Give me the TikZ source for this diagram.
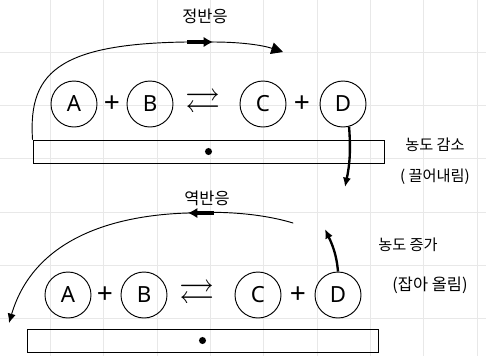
\documentclass[tikz,border=0pt]{standalone}
\usepackage{fontspec}
\usepackage{amssymb}
\setsansfont{Noto Sans}
\newfontfamily\kor{Noto Sans CJK KR}
\usetikzlibrary{arrows.meta,positioning,calc}
\tikzset{
    mol/.style={circle, draw, thick, minimum size=1.38cm, inner sep=0pt, font=\sffamily\fontsize{19}{19}\selectfont},
    plus/.style={font=\sffamily\fontsize{24}{24}\selectfont},
    eqsign/.style={font=\fontsize{30}{30}\selectfont},
    tube/.style={rectangle, draw, thick, minimum width=10.53cm, minimum height=0.69cm},
    spot/.style={circle, fill, inner sep=0pt, minimum size=6pt},
    klabel/.style={font=\kor\fontsize{13}{15}\selectfont},
    flow/.style={thick, line cap=round},
    push/.style={-{Latex[length=8pt,width=7pt]}, line width=2pt},
    midhead/.style={line width=3pt, -{Latex[length=8pt,width=9pt]}}
}

\begin{document}
\begin{tikzpicture}[x=0.03cm, y=-0.03cm]
\useasboundingbox (0,0) rectangle (486,356);

% faint grid of the paper
\foreach \gx in {50,103,157,210,263,317,370,423,477}
    \draw[gray!18] (\gx,0) -- (\gx,356);
\foreach \gy in {52,105,158,212,265,318}
    \draw[gray!18] (0,\gy) -- (486,\gy);

% Top: equilibrium, product pulled down
\node[mol] (A1) at (74,104) {A};
\node[plus] (p1) at (112,104) {+};
\node[mol] (B1) at (150,104) {B};
\node[eqsign] (eq1) at (203,104) {$\rightleftarrows$};
\node[mol] (C1) at (263,104) {C};
\node[plus] (p2) at (302,104) {+};
\node[mol] (D1) at (343,104) {D};
\node[tube] (tube1) at (208.5,151.5) {};
\node[spot] (dot1) at (tube1.center) {};

% forward reaction arc
\coordinate (fmid) at (213,42);
\coordinate (fend) at (283,52);
\draw[flow] (tube1.north west) .. controls (28,70) and (60,40) .. (fmid);
\draw[flow, -{Triangle[length=10pt,width=10pt]}] (fmid) .. controls (240,42) and (262,45) .. (fend);
\draw[midhead] ($(fmid)+(-26,0)$) -- (fmid);
\node[klabel, font=\kor\fontsize{14}{15}\selectfont] (fwd) at (205,16) {정반응};

% D pulled down
\coordinate (dend) at (345,187);
\draw[push] (D1.-75) to[bend left=8] (dend);
\node[klabel] (dec) at (435,145) {농도 감소};
\node[klabel] (pulldn) at (435,177) {( 끌어내림)};

% Bottom: equilibrium, product pulled up
\node[mol] (A2) at (68,295) {A};
\node[plus] (p3) at (105,295) {+};
\node[mol] (B2) at (144,295) {B};
\node[eqsign] (eq2) at (197,295) {$\rightleftarrows$};
\node[mol] (C2) at (258,295) {C};
\node[plus] (p4) at (298,295) {+};
\node[mol] (D2) at (338,295) {D};
\node[tube] (tube2) at (202.5,340.5) {};
\node[spot] (dot2) at (tube2.center) {};

% reverse reaction arc
\coordinate (rstart) at (293,223);
\coordinate (rmid) at (188,213);
\coordinate (rend) at (9,323);
\draw[flow] (rstart) .. controls (260,213) and (220,211) .. (rmid);
\draw[flow, -{Latex[length=8pt,width=7pt]}] (rmid) .. controls (120,215) and (35,235) .. (rend);
\draw[midhead] ($(rmid)+(26,0)$) -- (rmid);
\node[klabel, font=\kor\fontsize{14}{15}\selectfont] (rev) at (207,198) {역반응};

% D pulled up
\coordinate (uend) at (325,229);
\draw[push] (D2.north) to[out=95,in=-65] (uend);
\node[klabel] (inc) at (408,245) {농도 증가};
\node[klabel, font=\kor\fontsize{14}{15}\selectfont] (pullup) at (430,285) {(잡아 올림)};

\end{tikzpicture}
\end{document}
